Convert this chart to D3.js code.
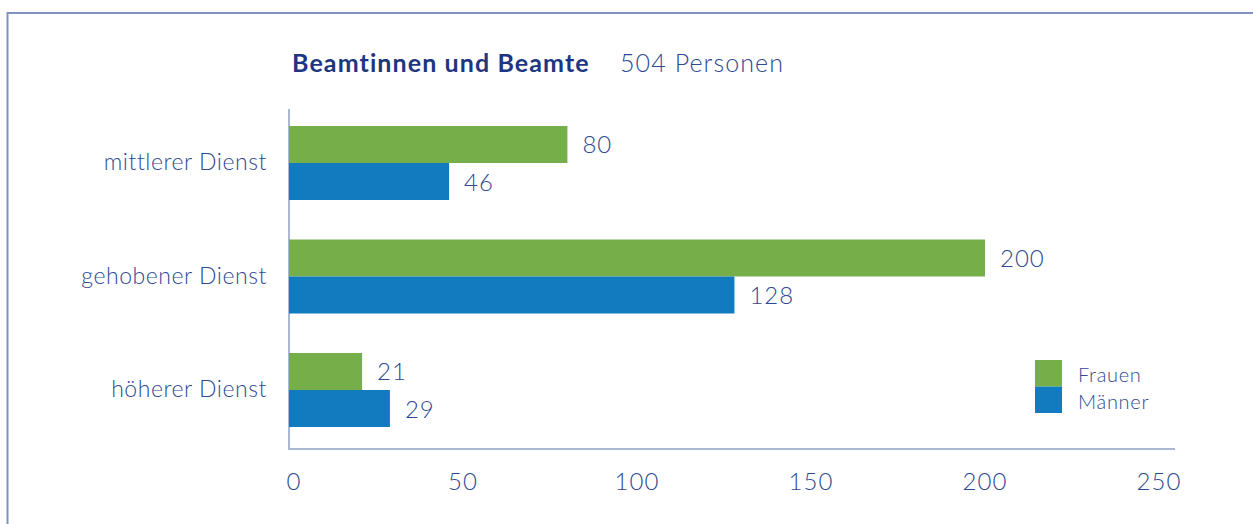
<!DOCTYPE html>
<html>
<head>
<meta charset="utf-8">
<script src="https://cdn.jsdelivr.net/npm/d3@7"></script>
<style>
  body { margin: 0; background: #fff; }
  svg { display: block; font-family: "Lato", "Open Sans", sans-serif; }
</style>
</head>
<body>
<svg width="1253" height="524"></svg>
<script>
var categories = ["mittlerer Dienst", "gehobener Dienst", "höherer Dienst"];
var series = ["Frauen", "Männer"];
var frauen = [80, 200, 21];
var maenner = [46, 128, 29];
var ticks = [0, 50, 100, 150, 200, 250];
var colors = ["#76ae4a", "#127bc0"];

var svg = d3.select("svg");
var textColor = "#2e4a92";

// frame
svg.append("path")
    .attr("d", "M7.5,524V13H1253")
    .attr("fill", "none")
    .attr("stroke", "#7f92bf")
    .attr("stroke-width", 2);

var x = d3.scaleLinear().domain([0, 250]).range([289, 1159]);
var y = d3.scaleBand().domain(categories)
    .range([106.25, 446.75])
    .paddingInner(0.348)
    .paddingOuter(0.174);
var ySub = d3.scaleBand().domain(series).range([0, y.bandwidth()]);

// title
var title = svg.append("text")
    .attr("x", 292)
    .attr("y", 72)
    .attr("font-size", 25)
    .attr("fill", "#1d367f");
title.append("tspan").attr("font-weight", 700).attr("letter-spacing", 1.1).text("Beamtinnen und Beamte");
title.append("tspan").attr("x", 620).attr("font-weight", 300).attr("letter-spacing", 1.1)
    .attr("fill", textColor).text("504 Personen");

// axes lines
svg.append("line")
    .attr("x1", 289).attr("x2", 289)
    .attr("y1", 109).attr("y2", 449)
    .attr("stroke", "#aab8d4").attr("stroke-width", 2);
svg.append("line")
    .attr("x1", 288).attr("x2", 1175)
    .attr("y1", 449).attr("y2", 449)
    .attr("stroke", "#aab8d4").attr("stroke-width", 2);

// tick labels
svg.append("g").selectAll("text")
    .data(ticks)
    .enter().append("text")
    .attr("x", function(d) { return x(d) + (d == 0 ? 5 : 0); })
    .attr("y", 490)
    .attr("text-anchor", "middle")
    .attr("font-size", 24)
    .attr("font-weight", 300)
    .attr("letter-spacing", 1)
    .attr("fill", textColor)
    .text(function(d) { return d; });

// category labels
svg.append("g").selectAll("text")
    .data(categories)
    .enter().append("text")
    .attr("x", 267)
    .attr("y", function(d) { return y(d) + y.bandwidth() / 2 + 7; })
    .attr("text-anchor", "end")
    .attr("font-size", 23)
    .attr("font-weight", 300)
    .attr("letter-spacing", 0.55)
    .attr("fill", textColor)
    .text(function(d) { return d; });

// bars
var rows = [];
categories.forEach(function(c, i) {
  rows.push({ cat: c, s: "Frauen", v: frauen[i], col: colors[0] });
  rows.push({ cat: c, s: "Männer", v: maenner[i], col: colors[1] });
});

var bar = svg.append("g").selectAll("g")
    .data(rows)
    .enter().append("g");

bar.append("rect")
    .attr("x", x(0))
    .attr("y", function(d) { return y(d.cat) + ySub(d.s); })
    .attr("width", function(d) { return x(d.v) - x(0); })
    .attr("height", ySub.bandwidth())
    .attr("fill", function(d) { return d.col; });

bar.append("text")
    .attr("x", function(d) { return x(d.v) + 15; })
    .attr("y", function(d) { return y(d.cat) + ySub(d.s) + ySub.bandwidth() / 2 + 9; })
    .attr("font-size", 24)
    .attr("font-weight", 300)
    .attr("letter-spacing", 1)
    .attr("fill", textColor)
    .text(function(d) { return d.v; });

// legend
var legend = svg.append("g").selectAll("g")
    .data(series)
    .enter().append("g")
    .attr("transform", function(d, i) { return "translate(1035," + (360 + i * 26.5) + ")"; });
legend.append("rect")
    .attr("width", 27).attr("height", 26.5)
    .attr("fill", function(d, i) { return colors[i]; });
legend.append("text")
    .attr("x", 43).attr("y", 22)
    .attr("font-size", 20)
    .attr("font-weight", 300)
    .attr("letter-spacing", 0.7)
    .attr("fill", textColor)
    .text(function(d) { return d; });
</script>
</body>
</html>
